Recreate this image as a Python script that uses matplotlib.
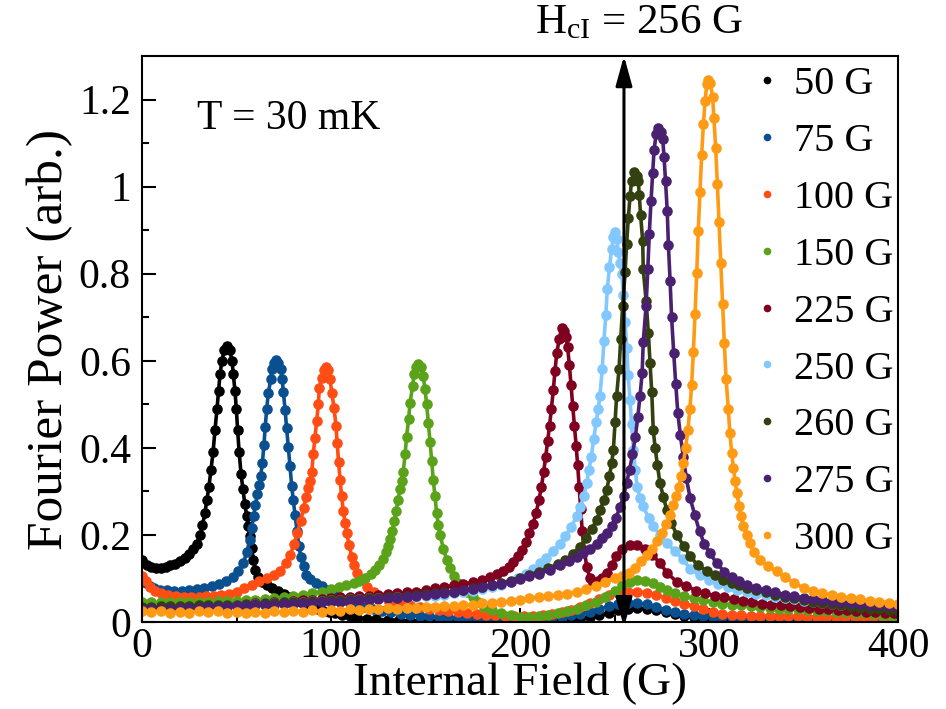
import numpy as np
import matplotlib
matplotlib.use('Agg')
import matplotlib.pyplot as plt
from matplotlib.lines import Line2D

plt.rcParams['font.family'] = 'Liberation Serif'
plt.rcParams['mathtext.fontset'] = 'custom'
plt.rcParams['mathtext.rm'] = 'Liberation Serif'

labels = ['50 G', '75 G', '100 G', '150 G', '225 G', '250 G', '260 G', '275 G', '300 G']
colors = ['#000000', '#0a4f8f', '#ff4d14', '#5ba21b', '#800020',
          '#82c8ff', '#334010', '#4a2070', '#ff9a14']

# (internal field G, fourier power)
s50 = [(0, 0.142), (2.5, 0.132), (5, 0.127), (7.5, 0.124), (10, 0.124), (12.5, 0.126),
       (15, 0.13), (17.5, 0.134), (20, 0.14), (22.5, 0.147), (25, 0.157), (27, 0.167),
       (29, 0.18), (30.7, 0.2), (32, 0.222), (33.3, 0.25), (34.3, 0.28), (35.4, 0.31),
       (36.5, 0.35), (37.6, 0.39), (38.6, 0.44), (39.7, 0.49), (40.5, 0.53), (41.3, 0.57),
       (42.3, 0.6), (43.5, 0.625), (45, 0.634), (46.5, 0.625), (47.6, 0.6), (48.3, 0.57),
       (49.2, 0.53), (49.9, 0.49), (50.6, 0.44), (51.4, 0.39), (52.4, 0.34), (53.4, 0.305),
       (54.4, 0.272), (55.4, 0.243), (56.3, 0.22), (57.1, 0.197), (58, 0.17), (58.9, 0.143),
       (60, 0.12), (61.5, 0.104), (63.5, 0.093), (66, 0.085), (69, 0.078), (72, 0.072),
       (75, 0.065), (78, 0.058), (81, 0.052), (84, 0.047), (87, 0.04), (90, 0.034),
       (93, 0.03), (96, 0.026), (99, 0.023), (102, 0.02), (106, 0.016), (110, 0.013),
       (114, 0.01), (119, 0.008), (124, 0.006), (130, 0.005), (136, 0.004), (142, 0.003),
       (147, 0.003), (152, 0.003), (157, 0.002), (162, 0.002), (167, 0.002), (172, 0.002),
       (177, 0.002), (182, 0.002), (187, 0.002), (192, 0.002), (197, 0.003), (202, 0.003),
       (207, 0.003), (212, 0.004), (217, 0.004), (222, 0.005), (227, 0.006), (232, 0.008),
       (237, 0.012), (242, 0.016), (247, 0.021), (252, 0.027), (257, 0.031), (262, 0.032),
       (267, 0.03), (272, 0.027), (277, 0.022), (282, 0.018), (287, 0.014), (292, 0.011),
       (297, 0.009), (302, 0.008), (307, 0.007), (312, 0.007), (317, 0.007), (322, 0.006),
       (327, 0.006), (332, 0.006), (337, 0.006), (342, 0.006), (347, 0.006), (352, 0.005),
       (357, 0.005), (362, 0.005), (367, 0.005), (372, 0.005), (377, 0.005), (382, 0.005),
       (387, 0.005), (392, 0.005), (397, 0.005), (400, 0.005)]

s75 = [(0, 0.1), (2, 0.09), (4, 0.082), (6.5, 0.077), (9.5, 0.074), (13, 0.073), (17, 0.072),
       (21, 0.072), (25, 0.073), (29, 0.075), (33, 0.078), (37, 0.082), (41, 0.087),
       (44.5, 0.094), (48, 0.104), (51, 0.118), (53.6, 0.136), (55.5, 0.16), (57, 0.189),
       (58, 0.215), (59, 0.243), (60, 0.268), (61, 0.293), (62, 0.315), (62.8, 0.335),
       (63.7, 0.366), (64.5, 0.406), (65.2, 0.449), (66, 0.49), (66.8, 0.525), (68.1, 0.557),
       (68.6, 0.58), (69.7, 0.595), (70.9, 0.601), (72.2, 0.595), (73.4, 0.58), (74.2, 0.557),
       (74.8, 0.528), (75.7, 0.488), (76.5, 0.446), (77.4, 0.402), (78.3, 0.358), (79.2, 0.313),
       (80, 0.281), (81, 0.245), (82, 0.21), (83, 0.175), (84, 0.15), (85.5, 0.128),
       (87, 0.108), (89, 0.098), (92, 0.089), (95, 0.082), (98, 0.074), (101, 0.066),
       (104, 0.058), (107, 0.05), (110, 0.044), (114, 0.04), (118, 0.035), (122, 0.03),
       (127, 0.026), (132, 0.022), (137, 0.018), (142, 0.016), (147, 0.014), (152, 0.013),
       (157, 0.012), (162, 0.011), (167, 0.01), (172, 0.01), (177, 0.009), (182, 0.009),
       (187, 0.008), (192, 0.008), (197, 0.008), (202, 0.008), (207, 0.009), (212, 0.01),
       (217, 0.011), (222, 0.012), (227, 0.015), (232, 0.019), (237, 0.024), (242, 0.03),
       (247, 0.036), (252, 0.041), (257, 0.044), (262, 0.044), (267, 0.041), (272, 0.035),
       (277, 0.028), (282, 0.022), (287, 0.018), (292, 0.015), (297, 0.013), (302, 0.012),
       (307, 0.011), (312, 0.011), (317, 0.01), (322, 0.01), (327, 0.01), (332, 0.009),
       (337, 0.009), (342, 0.009), (347, 0.009), (352, 0.008), (357, 0.008), (362, 0.008),
       (367, 0.008), (372, 0.008), (377, 0.007), (382, 0.007), (387, 0.007), (392, 0.007),
       (397, 0.007), (400, 0.007)]

s100 = [(0, 0.105), (2, 0.095), (4.2, 0.081), (7, 0.071), (10, 0.066), (14, 0.062), (18, 0.06),
        (22, 0.058), (26, 0.058), (30, 0.058), (34, 0.059), (38, 0.06), (42, 0.062), (46, 0.065),
        (50, 0.07), (54, 0.078), (58, 0.086), (62, 0.095), (66, 0.1), (70, 0.108), (73, 0.118),
        (76, 0.135), (78.5, 0.155), (80.5, 0.18), (82.2, 0.205), (84, 0.232), (85.5, 0.262),
        (86.8, 0.288), (88, 0.308), (89, 0.325), (89.8, 0.344), (90.6, 0.385), (91.5, 0.423),
        (92.4, 0.461), (93.3, 0.5), (93.8, 0.538), (95, 0.561), (96.2, 0.578), (97.4, 0.586),
        (98.5, 0.578), (99.5, 0.557), (100.4, 0.527), (101.6, 0.492), (102.6, 0.451),
        (103.3, 0.41), (104, 0.367), (104.8, 0.327), (105.6, 0.29), (106.5, 0.255),
        (107.4, 0.228), (108.3, 0.204), (109.6, 0.176), (111, 0.15), (112.3, 0.13),
        (113.6, 0.112), (116, 0.096), (119, 0.081), (122.5, 0.068), (126, 0.058), (130, 0.051),
        (134, 0.046), (138, 0.042), (142, 0.038), (147, 0.034), (152, 0.031), (157, 0.028),
        (162, 0.026), (167, 0.024), (172, 0.021), (177, 0.018), (182, 0.016), (187, 0.015),
        (192, 0.014), (197, 0.013), (202, 0.013), (207, 0.014), (212, 0.016), (217, 0.019),
        (222, 0.023), (227, 0.028), (232, 0.035), (237, 0.043), (242, 0.052), (247, 0.062),
        (252, 0.067), (257, 0.07), (262, 0.07), (267, 0.067), (272, 0.062), (277, 0.056),
        (282, 0.049), (287, 0.042), (292, 0.036), (297, 0.03), (302, 0.024), (307, 0.019),
        (312, 0.016), (317, 0.015), (322, 0.014), (327, 0.014), (332, 0.013), (337, 0.013),
        (342, 0.013), (347, 0.013), (352, 0.012), (357, 0.012), (362, 0.012), (367, 0.012),
        (372, 0.012), (377, 0.012), (382, 0.012), (387, 0.012), (392, 0.012), (397, 0.012),
        (400, 0.012)]

s150 = [(0, 0.045), (5, 0.045), (10, 0.045), (15, 0.045), (20, 0.046), (25, 0.046), (30, 0.047),
        (35, 0.047), (40, 0.048), (45, 0.048), (50, 0.049), (55, 0.05), (60, 0.051), (65, 0.053),
        (70, 0.055), (75, 0.057), (80, 0.06), (85, 0.063), (90, 0.066), (95, 0.07), (100, 0.075),
        (104, 0.08), (108, 0.085), (112, 0.09), (115, 0.095), (118, 0.102), (121, 0.11),
        (123.5, 0.12), (125.5, 0.132), (127.5, 0.145), (129, 0.16), (130.3, 0.175),
        (131.3, 0.19), (132.5, 0.21), (133.5, 0.232), (134.5, 0.256), (135.5, 0.281),
        (136.5, 0.305), (137.4, 0.325), (138.2, 0.344), (139.2, 0.385), (140, 0.426),
        (141.1, 0.467), (141.8, 0.504), (143.2, 0.541), (143.9, 0.569), (145, 0.585),
        (146.2, 0.592), (147.5, 0.585), (148.8, 0.565), (149.7, 0.535), (150.6, 0.5),
        (151.5, 0.458), (152.4, 0.413), (153.3, 0.369), (154.1, 0.326), (155, 0.289),
        (155.9, 0.25), (156.8, 0.222), (157.7, 0.2), (159.5, 0.168), (161.2, 0.143),
        (163, 0.125), (165, 0.105), (167, 0.09), (169, 0.08), (172, 0.07), (175, 0.058),
        (178, 0.045), (181, 0.035), (185, 0.027), (190, 0.02), (195, 0.015), (200, 0.012),
        (205, 0.012), (210, 0.014), (215, 0.016), (220, 0.02), (225, 0.025), (230, 0.031),
        (235, 0.038), (240, 0.047), (245, 0.057), (250, 0.072), (254, 0.085), (258, 0.093),
        (262, 0.096), (266, 0.094), (270.5, 0.089), (274, 0.081), (277.6, 0.074), (282, 0.066),
        (287, 0.059), (292, 0.054), (297, 0.05), (302, 0.046), (307, 0.042), (312, 0.04),
        (317, 0.038), (322, 0.036), (327, 0.034), (332, 0.033), (337, 0.031), (342, 0.03),
        (347, 0.029), (352, 0.027), (357, 0.026), (362, 0.025), (367, 0.024), (372, 0.022),
        (377, 0.021), (382, 0.02), (387, 0.018), (392, 0.016), (397, 0.014), (400, 0.012)]

s225 = [(0, 0.03), (5, 0.031), (10, 0.032), (15, 0.033), (20, 0.034), (25, 0.035), (30, 0.036),
        (35, 0.037), (40, 0.038), (45, 0.039), (50, 0.04), (55, 0.041), (60, 0.043), (65, 0.044),
        (70, 0.046), (75, 0.047), (80, 0.049), (85, 0.05), (90, 0.051), (95, 0.053), (100, 0.055),
        (105, 0.057), (110, 0.058), (115, 0.059), (120, 0.06), (125, 0.062), (130, 0.064),
        (135, 0.066), (140, 0.068), (145, 0.07), (150, 0.073), (155, 0.077), (160, 0.081),
        (165, 0.084), (170, 0.087), (175, 0.091), (180, 0.097), (184, 0.104), (188, 0.11),
        (191, 0.118), (194, 0.127), (196.5, 0.138), (199, 0.152), (201, 0.166), (203, 0.184),
        (205, 0.205), (206.8, 0.225), (208.5, 0.25), (210, 0.28), (211.3, 0.31), (212.5, 0.345),
        (213.6, 0.38), (214.6, 0.415), (215.6, 0.45), (216.6, 0.49), (217.6, 0.532),
        (218.5, 0.577), (219.4, 0.617), (220.8, 0.651), (222, 0.675), (223.3, 0.668),
        (224.3, 0.655), (225.2, 0.631), (226.1, 0.59), (227, 0.544), (227.9, 0.495),
        (228.8, 0.45), (229.7, 0.405), (230.5, 0.36), (231.3, 0.31), (232.1, 0.26),
        (232.9, 0.21), (234, 0.165), (235.3, 0.127), (237, 0.1), (238.8, 0.089), (241, 0.094),
        (243.5, 0.102), (246, 0.113), (248.5, 0.13), (251, 0.152), (254, 0.168), (258, 0.177),
        (262, 0.176), (266, 0.168), (270, 0.155), (274, 0.135), (278, 0.112), (283, 0.092),
        (288, 0.083), (293, 0.072), (298, 0.066), (303, 0.06), (308, 0.057), (313, 0.052),
        (318, 0.048), (323, 0.045), (328, 0.042), (333, 0.04), (338, 0.038), (343, 0.036),
        (348, 0.034), (353, 0.032), (358, 0.031), (363, 0.029), (368, 0.028), (373, 0.027),
        (378, 0.025), (383, 0.024), (388, 0.023), (393, 0.021), (398, 0.02), (400, 0.02)]

s250 = [(0, 0.03), (5, 0.031), (10, 0.032), (15, 0.033), (20, 0.034), (25, 0.035), (30, 0.036),
        (35, 0.037), (40, 0.038), (45, 0.039), (50, 0.04), (55, 0.041), (60, 0.042), (65, 0.043),
        (70, 0.044), (75, 0.045), (80, 0.046), (85, 0.047), (90, 0.048), (95, 0.049), (100, 0.05),
        (105, 0.051), (110, 0.052), (115, 0.053), (120, 0.054), (125, 0.055), (130, 0.056),
        (135, 0.057), (140, 0.057), (145, 0.058), (150, 0.059), (155, 0.06), (160, 0.063),
        (165, 0.066), (170, 0.069), (175, 0.072), (180, 0.076), (185, 0.08), (190, 0.086),
        (195, 0.093), (199, 0.1), (203, 0.11), (207, 0.122), (210.6, 0.135), (214, 0.148),
        (217.5, 0.163), (221, 0.18), (224, 0.197), (227, 0.218), (230, 0.243), (232, 0.265),
        (233.8, 0.29), (235.3, 0.32), (236.5, 0.35), (237.7, 0.38), (239, 0.42), (240.3, 0.46),
        (241.4, 0.49), (242.3, 0.52), (243.5, 0.581), (244.4, 0.645), (245.4, 0.706),
        (246.2, 0.765), (247.3, 0.815), (248.5, 0.857), (249.4, 0.885), (250.3, 0.895),
        (251.2, 0.88), (252, 0.85), (253, 0.825), (253.8, 0.8), (254.7, 0.75), (255.6, 0.688),
        (256.5, 0.63), (257.2, 0.567), (258.2, 0.51), (259, 0.455), (260, 0.396), (261, 0.35),
        (262, 0.31), (263.5, 0.285), (265, 0.266), (268, 0.24), (270.5, 0.22), (274, 0.2),
        (277.6, 0.181), (282, 0.163), (286, 0.145), (290, 0.122), (295, 0.108), (300, 0.097),
        (305, 0.088), (310, 0.08), (315, 0.074), (320, 0.069), (325, 0.065), (330, 0.061),
        (335, 0.058), (340, 0.055), (345, 0.052), (350, 0.049), (355, 0.047), (360, 0.044),
        (365, 0.042), (370, 0.04), (375, 0.038), (380, 0.036), (385, 0.034), (390, 0.032),
        (395, 0.03), (400, 0.029)]

s260 = [(0, 0.035), (5, 0.035), (10, 0.036), (15, 0.036), (20, 0.037), (25, 0.037), (30, 0.038),
        (35, 0.038), (40, 0.039), (45, 0.04), (50, 0.04), (55, 0.041), (60, 0.042), (65, 0.043),
        (70, 0.044), (75, 0.045), (80, 0.046), (85, 0.047), (90, 0.048), (95, 0.049), (100, 0.05),
        (105, 0.051), (110, 0.052), (115, 0.053), (120, 0.054), (125, 0.055), (130, 0.057),
        (135, 0.058), (140, 0.06), (145, 0.062), (150, 0.064), (155, 0.066), (160, 0.068),
        (165, 0.07), (170, 0.073), (175, 0.077), (180, 0.081), (185, 0.085), (190, 0.09),
        (195, 0.095), (200, 0.101), (205, 0.108), (210, 0.116), (215, 0.124), (220, 0.133),
        (224, 0.143), (228, 0.156), (231.7, 0.173), (235, 0.193), (238, 0.214), (240.6, 0.235),
        (242.5, 0.258), (244.3, 0.28), (245.9, 0.304), (247.3, 0.335), (248.5, 0.365),
        (249.4, 0.396), (250.3, 0.46), (251.1, 0.519), (252.4, 0.582), (253.3, 0.651),
        (254.3, 0.726), (255.6, 0.803), (256.4, 0.869), (257.3, 0.928), (258.2, 0.978),
        (259, 1.012), (260.5, 1.034), (261.8, 1.025), (262.6, 1.012), (263.1, 0.981),
        (263.8, 0.934), (264.9, 0.876), (265.2, 0.81), (266.7, 0.738), (267.9, 0.664),
        (268.8, 0.594), (269.7, 0.528), (270.5, 0.44), (271.5, 0.4), (272.7, 0.36), (274, 0.32),
        (275.8, 0.288), (277.6, 0.258), (280, 0.228), (283, 0.2), (286.5, 0.175), (290, 0.152),
        (294, 0.13), (298.8, 0.118), (303, 0.107), (307.6, 0.097), (312, 0.09), (316, 0.084),
        (320, 0.079), (325, 0.074), (330, 0.068), (335, 0.063), (340, 0.058), (345, 0.054),
        (350, 0.05), (355, 0.047), (360, 0.044), (365, 0.041), (370, 0.038), (375, 0.035),
        (380, 0.033), (385, 0.031), (390, 0.029), (395, 0.027), (400, 0.025)]

s275 = [(0, 0.03), (5, 0.03), (10, 0.031), (15, 0.031), (20, 0.032), (25, 0.032), (30, 0.033),
        (35, 0.034), (40, 0.034), (45, 0.035), (50, 0.036), (55, 0.037), (60, 0.038), (65, 0.039),
        (70, 0.04), (75, 0.041), (80, 0.042), (85, 0.043), (90, 0.044), (95, 0.045), (100, 0.046),
        (105, 0.047), (110, 0.048), (115, 0.05), (120, 0.051), (125, 0.052), (130, 0.054),
        (135, 0.055), (140, 0.057), (145, 0.059), (150, 0.061), (155, 0.064), (160, 0.067),
        (165, 0.07), (170, 0.073), (175, 0.076), (180, 0.08), (185, 0.084), (190, 0.088),
        (195, 0.093), (200, 0.099), (205, 0.105), (210, 0.111), (216, 0.12), (221, 0.13),
        (226, 0.14), (230, 0.15), (233.5, 0.158), (237, 0.168), (240.5, 0.18), (243.5, 0.192),
        (246, 0.204), (248.5, 0.22), (250.8, 0.24), (253, 0.265), (254.8, 0.29), (256.4, 0.32),
        (258, 0.35), (259.5, 0.385), (261, 0.425), (262.3, 0.47), (263.5, 0.52), (264.6, 0.571),
        (265.2, 0.644), (266.7, 0.726), (267.6, 0.81), (268.4, 0.892), (269.3, 0.966),
        (270.2, 1.032), (270.9, 1.083), (272, 1.12), (273.2, 1.134), (274.4, 1.125),
        (275.5, 1.11), (276.2, 1.068), (277, 1.012), (277.9, 0.943), (278.5, 0.866),
        (279.4, 0.784), (280.2, 0.7), (281.3, 0.619), (282.4, 0.546), (283.5, 0.48),
        (284.8, 0.43), (286.4, 0.38), (288, 0.33), (290, 0.285), (292.5, 0.245), (295, 0.208),
        (297.5, 0.18), (300.5, 0.158), (304, 0.135), (308, 0.116), (312, 0.104), (316, 0.094),
        (320, 0.086), (325, 0.078), (330, 0.073), (335, 0.068), (340, 0.063), (345, 0.059),
        (350, 0.056), (355, 0.053), (360, 0.05), (365, 0.048), (370, 0.046), (375, 0.044),
        (380, 0.042), (385, 0.04), (390, 0.038), (395, 0.036), (400, 0.035)]

s300 = [(0, 0.025), (5, 0.022), (10, 0.026), (15, 0.02), (20, 0.024), (25, 0.021), (30, 0.026),
        (35, 0.022), (40, 0.025), (45, 0.02), (50, 0.024), (55, 0.02), (60, 0.023), (65, 0.021),
        (70, 0.025), (75, 0.022), (80, 0.026), (85, 0.023), (90, 0.027), (95, 0.024), (100, 0.028),
        (105, 0.026), (110, 0.03), (115, 0.027), (120, 0.031), (125, 0.029), (130, 0.032),
        (135, 0.03), (140, 0.033), (145, 0.032), (150, 0.035), (155, 0.034), (160, 0.036),
        (165, 0.036), (170, 0.038), (175, 0.04), (180, 0.043), (185, 0.043), (190, 0.045),
        (195, 0.048), (200, 0.05), (205, 0.055), (210, 0.058), (215, 0.06), (220, 0.062),
        (225, 0.065), (230, 0.07), (235, 0.075), (240, 0.083), (245, 0.092), (250, 0.1),
        (254, 0.106), (257.5, 0.112), (261, 0.125), (264, 0.14), (267, 0.155), (270, 0.168),
        (272.5, 0.185), (275, 0.205), (277.5, 0.225), (279.4, 0.245), (281, 0.268),
        (282.6, 0.29), (284, 0.31), (285.2, 0.335), (286.4, 0.365), (287.6, 0.4), (288.8, 0.44),
        (289.9, 0.49), (290.8, 0.545), (291.7, 0.62), (292.6, 0.707), (293.5, 0.802),
        (294.3, 0.897), (295.2, 0.988), (296.1, 1.072), (297, 1.143), (297.9, 1.196),
        (298.8, 1.235), (299.6, 1.245), (300.7, 1.238), (301.9, 1.206), (302.6, 1.157),
        (303.5, 1.089), (304.4, 1.007), (305.3, 0.918), (306.2, 0.825), (307.2, 0.73),
        (308.1, 0.64), (309, 0.559), (310.2, 0.49), (311, 0.435), (312, 0.389), (312.9, 0.354),
        (313.8, 0.323), (314.7, 0.296), (316, 0.266), (317, 0.243), (318.2, 0.22), (320, 0.2),
        (321.7, 0.182), (324, 0.16), (327, 0.143), (331, 0.128), (335.8, 0.117), (340, 0.104),
        (345, 0.09), (350, 0.078), (355, 0.072), (360, 0.066), (365, 0.062), (370, 0.058),
        (375, 0.055), (380, 0.052), (385, 0.049), (390, 0.047), (395, 0.044), (400, 0.042)]

series = [s50, s75, s100, s150, s225, s250, s260, s275, s300]
hc1 = 255

fig = plt.figure(figsize=(9.46, 7.09), dpi=100)
ax = fig.add_axes([0.1501, 0.1227, 0.7992, 0.7983])

for pts, c in zip(series, colors):
    f, p = zip(*pts)
    ax.plot(f, p, '-o', color=c, lw=2.6, ms=7.6, mew=0)

ax.set_xlim(0, 400)
ax.set_ylim(0, 1.3)
ax.set_xticks([0, 100, 200, 300, 400])
ax.set_xticks([50, 150, 250, 350], minor=True)
ax.set_yticks([0, 0.2, 0.4, 0.6, 0.8, 1.0, 1.2])
ax.set_yticklabels(['0', '0.2', '0.4', '0.6', '0.8', '1', '1.2'])
ax.set_yticks(np.arange(0.1, 1.3, 0.2), minor=True)
ax.tick_params(which='both', direction='in', top=False, right=False, width=1.5)
ax.tick_params(which='major', length=10)
ax.tick_params(which='minor', length=5)
ax.tick_params(axis='y', labelsize=30, pad=8)
ax.tick_params(axis='x', labelsize=30, pad=4)
for sp in ax.spines.values():
    sp.set_linewidth(1.5)

ax.set_xlabel('Internal Field (G)', fontsize=34, labelpad=-3.5)
ax.set_ylabel('Fourier Power (arb.)', fontsize=37, labelpad=4)

ax.text(29, 1.155, 'T = 30 mK', fontsize=30, ha='left', va='center')
ax.text(208, 1.375, r'$\mathregular{H_{cI}}$ = 256 G', fontsize=31, ha='left',
        va='center', clip_on=False)
ax.annotate('', xy=(hc1, 1.3), xytext=(hc1, -0.012), annotation_clip=False,
            arrowprops=dict(arrowstyle='<|-|>,head_length=0.9,head_width=0.25',
                            color='black', lw=2.2, shrinkA=0, shrinkB=0,
                            mutation_scale=20))

handles = [Line2D([], [], ls='none', marker='o', ms=5.5, color=c, mew=0) for c in colors]
ax.legend(handles, labels, loc='upper left', bbox_to_anchor=(0.8, 0.99), frameon=False,
          fontsize=29, handlelength=0.8, handletextpad=0.27, labelspacing=0.49,
          borderaxespad=0, borderpad=0.1)

fig.savefig('out.png', dpi=100)
